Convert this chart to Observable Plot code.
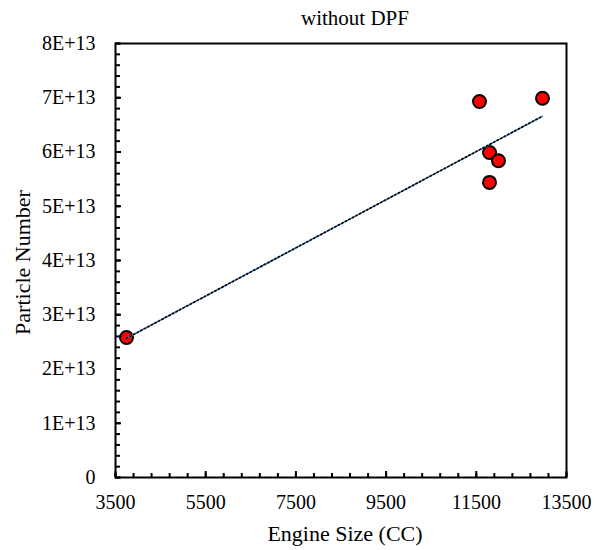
<!DOCTYPE html>
<html>
<head>
<meta charset="utf-8">
<script src="https://cdn.jsdelivr.net/npm/d3@7"></script>
<script src="https://cdn.jsdelivr.net/npm/@observablehq/plot@0.6"></script>
<style>
  html, body { margin: 0; padding: 0; background: #fff; }
  #chart svg { display: block; }
</style>
</head>
<body>
<div id="chart"></div>
<script>
const title = "without DPF";
const xLabel = "Engine Size (CC)";
const yLabel = "Particle Number";
const engineSize = [3744, 11571, 12968, 11793, 11992, 11793];
const particleNumber = [2.58e13, 6.93e13, 6.99e13, 5.99e13, 5.84e13, 5.44e13];
const xMajorTicks = [3500, 5500, 7500, 9500, 11500, 13500];
const xMinorTicks = d3.range(3500, 13501, 400);
const yMajorTicks = [0, 1e13, 2e13, 3e13, 4e13, 5e13, 6e13, 7e13, 8e13];
const yMinorTicks = d3.range(0, 8e13 + 1, 2e12);

const data = engineSize.map((x, i) => ({x, y: particleNumber[i]}));
const yFmt = d => d === 0 ? "0" : `${Math.round(d / 1e13)}E+13`;

const chart = Plot.plot({
  width: 594,
  height: 550,
  marginLeft: 115,
  marginRight: 28,
  marginTop: 43,
  marginBottom: 73,
  style: {fontFamily: "'Liberation Serif', 'Times New Roman', serif", fontSize: "20px", color: "#000", background: "#fff"},
  x: {domain: [3500, 13500]},
  y: {domain: [0, 8e13]},
  marks: [
    Plot.axisX(xMinorTicks, {tickSize: -4, text: null, strokeWidth: 2, label: null}),
    Plot.axisX(xMajorTicks, {tickSize: -6, text: null, strokeWidth: 2, label: null}),
    Plot.axisX(xMajorTicks, {tickSize: 0, tickPadding: 17, fontSize: 20, tickFormat: d => String(d), label: null}),
    Plot.axisY(yMinorTicks, {tickSize: -5, text: null, strokeWidth: 2, label: null}),
    Plot.axisY(yMajorTicks, {tickSize: -6, text: null, strokeWidth: 2, label: null}),
    Plot.axisY(yMajorTicks, {tickSize: 0, tickPadding: 20, fontSize: 20, tickFormat: yFmt, label: null}),
    Plot.frame({stroke: "#000", strokeWidth: 2}),
    Plot.dot(data, {x: "x", y: "y", r: 6.5, fill: "#ff0000", stroke: "#000", strokeWidth: 2}),
    Plot.linearRegressionY(data, {x: "x", y: "y", ci: 0, stroke: "#5b9bd5", strokeWidth: 1.6}),
    Plot.linearRegressionY(data, {x: "x", y: "y", ci: 0, stroke: "#000", strokeWidth: 1.6, strokeDasharray: "1.6 2.4"}),
    Plot.text([title], {frameAnchor: "top", dy: -33, dx: 14, fontSize: 21}),
    Plot.text([xLabel], {frameAnchor: "bottom", dy: 63, dx: 4, fontSize: 22}),
    Plot.text([yLabel], {frameAnchor: "left", textAnchor: "middle", dx: -93, dy: 2, rotate: -90, fontSize: 22})
  ]
});
document.getElementById("chart").appendChild(chart);
</script>
</body>
</html>
